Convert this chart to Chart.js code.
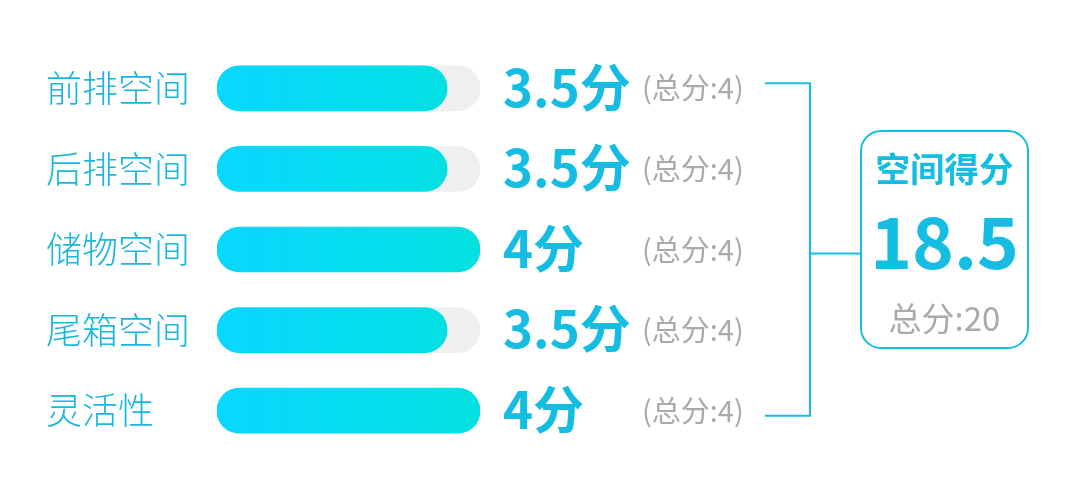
<!DOCTYPE html>
<html><head><meta charset="utf-8">
<script src="https://cdn.jsdelivr.net/npm/chart.js@4/dist/chart.umd.min.js"></script>
<style>html,body{margin:0;padding:0;background:#fff;}#wrap{width:1080px;height:488px;}</style>
</head><body><div id="wrap"><canvas id="c" width="1080" height="488"></canvas></div>
<script>
const categories = ['前排空间', '后排空间', '储物空间', '尾箱空间', '灵活性'];
const scores = [3.5, 3.5, 4, 3.5, 4];
const maxScores = [4, 4, 4, 4, 4];
const scoreUnit = '分';
const totalLabel = '总分';
const summaryTitle = '空间得分';
const summaryScore = 18.5;
const summaryTotal = 20;

const CJK = '"Noto Sans CJK SC","Noto Sans",sans-serif';
const CYAN = '#15bde2';
const GRAY = '#aaaaaa';

const overlay = {
  id: 'overlay',
  afterDatasetsDraw(chart) {
    const ctx = chart.ctx;
    const y = chart.scales.y;
    ctx.save();
    ctx.textBaseline = 'middle';
    categories.forEach((cat, i) => {
      const py = y.getPixelForValue(i);
      ctx.fillStyle = '#1ab6dd';
      ctx.font = '300 36px ' + CJK;
      ctx.textAlign = 'left';
      ctx.fillText(cat, 46, py);
      ctx.fillStyle = CYAN;
      ctx.font = '700 51px ' + CJK;
      ctx.fillText(scores[i] + scoreUnit, 503, py - 1);
      ctx.fillStyle = GRAY;
      ctx.font = '400 29px ' + CJK;
      ctx.fillText('(' + totalLabel + ':' + maxScores[i] + ')', 642, py);
    });
    // bracket
    const top = y.getPixelForValue(0) - 5;
    const bot = y.getPixelForValue(categories.length - 1) + 5;
    const mid = (y.getPixelForValue(2)) + 4;
    ctx.strokeStyle = CYAN;
    ctx.lineWidth = 2;
    ctx.beginPath();
    ctx.moveTo(765, top); ctx.lineTo(810, top); ctx.lineTo(810, bot); ctx.lineTo(765, bot);
    ctx.moveTo(810, mid); ctx.lineTo(860, mid);
    ctx.stroke();
    // box
    const bx = 861, by = 131, bw = 167, bh = 217, r = 20;
    ctx.beginPath();
    ctx.roundRect(bx, by, bw, bh, r);
    ctx.fillStyle = '#fff';
    ctx.fill();
    ctx.lineWidth = 2;
    ctx.stroke();
    const cx = bx + bw / 2;
    ctx.textAlign = 'center';
    ctx.fillStyle = CYAN;
    ctx.font = '700 34.5px ' + CJK;
    ctx.fillText(summaryTitle, cx, 169);
    ctx.font = '700 71px ' + CJK;
    ctx.fillText(String(summaryScore), cx, 242);
    ctx.fillStyle = GRAY;
    ctx.font = '400 33px ' + CJK;
    ctx.fillText(totalLabel + ':' + summaryTotal, cx, 318);
    ctx.restore();
  }
};

function grad(context) {
  const chart = context.chart;
  const a = chart.chartArea;
  if (!a) return '#05dbf0';
  const g = chart.ctx.createLinearGradient(a.left, 0, a.right, 0);
  g.addColorStop(0, '#08d7ff');
  g.addColorStop(1, '#02e1df');
  return g;
}

new Chart(document.getElementById('c'), {
  type: 'bar',
  data: {
    labels: categories,
    datasets: [
      { data: scores, backgroundColor: grad, borderRadius: 23, borderSkipped: false,
        barThickness: 45, grouped: false, order: 1 },
      { data: maxScores, backgroundColor: '#efefef', borderRadius: 23, borderSkipped: false,
        barThickness: 45, grouped: false, order: 2 }
    ]
  },
  options: {
    indexAxis: 'y',
    responsive: false,
    animation: false,
    layout: { padding: { left: 217, right: 600, top: 48, bottom: 37 } },
    scales: {
      x: { display: false, min: 0, max: 4 },
      y: { display: false }
    },
    plugins: { legend: { display: false }, tooltip: { enabled: false } }
  },
  plugins: [overlay]
});
</script></body></html>
